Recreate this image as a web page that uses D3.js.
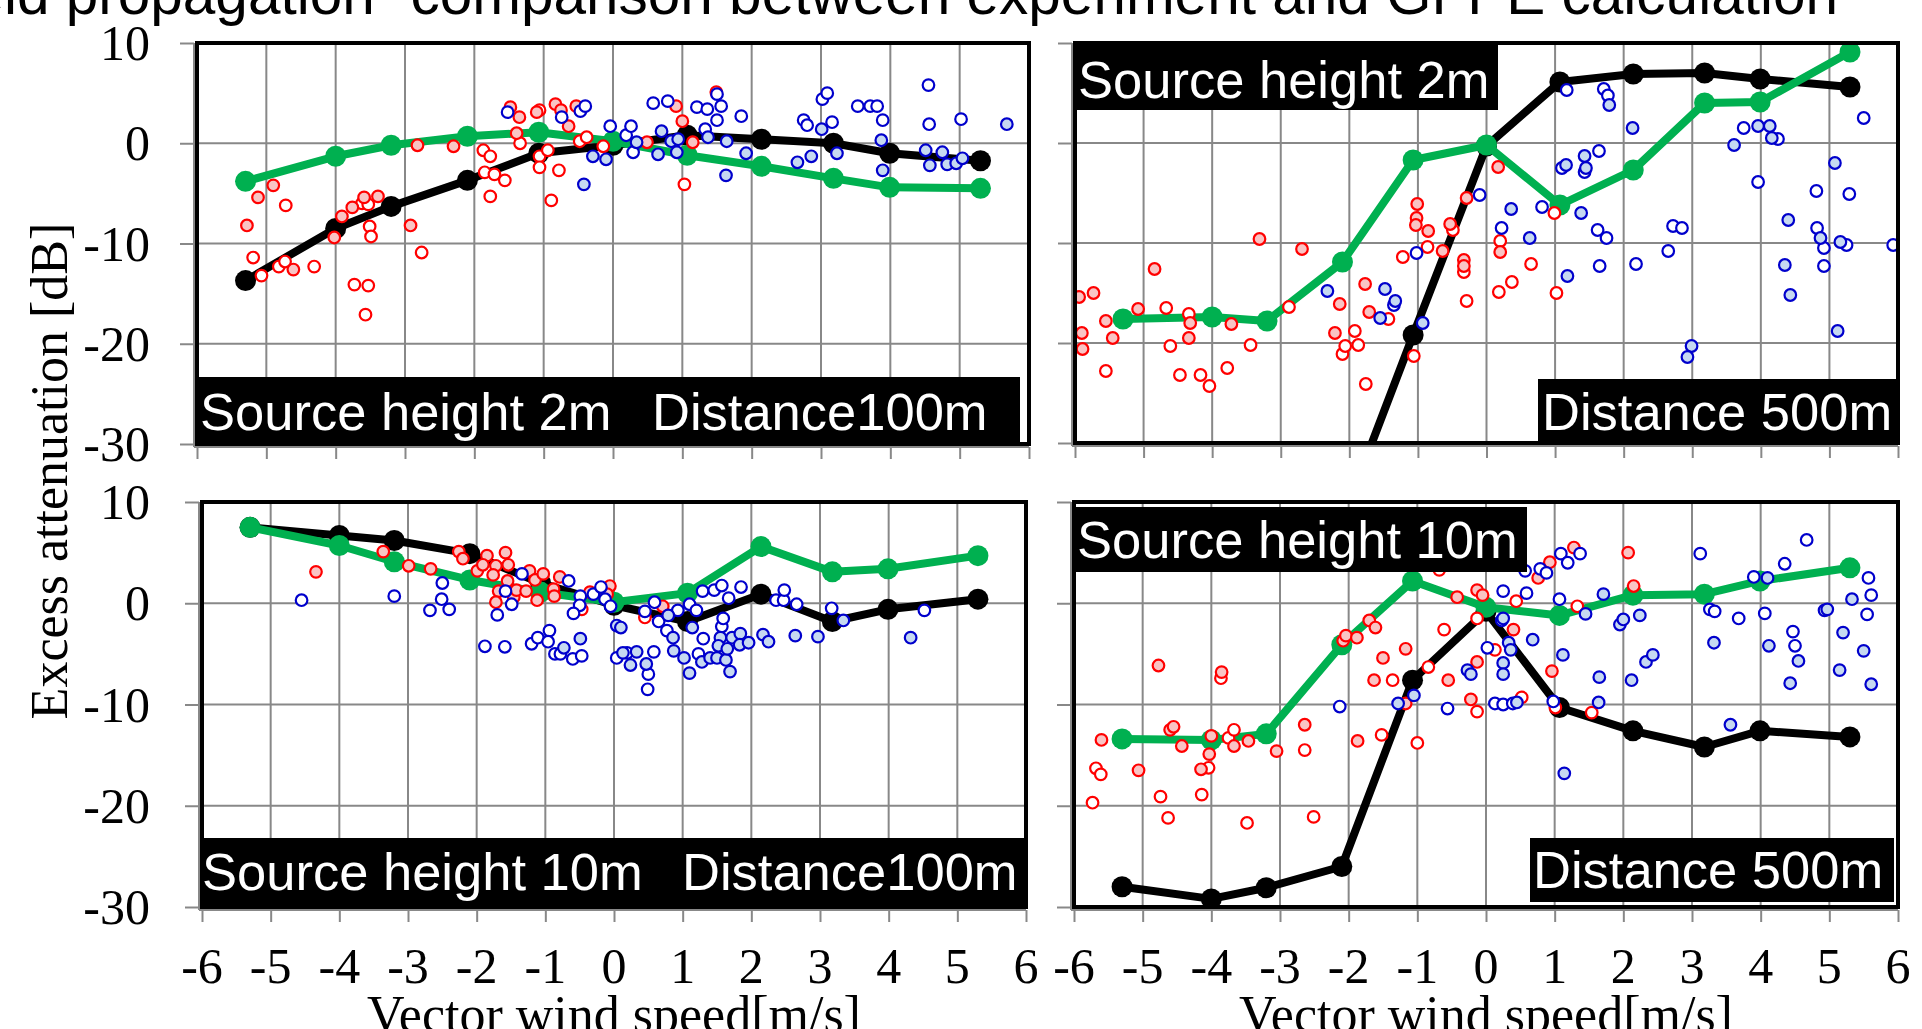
<!DOCTYPE html>
<html>
<head>
<meta charset="utf-8">
<title>Excess attenuation vs vector wind speed</title>
<script src="https://d3js.org/d3.v7.min.js"></script>
<style>
  body { margin: 0; background: #fff; }
  svg { display: block; }
  .serif { font-family: "Liberation Serif", "Times New Roman", serif; fill: #000; }
  .sans { font-family: "Liberation Sans", Arial, sans-serif; }
  .box-text { font-family: "Liberation Sans", Arial, sans-serif; font-size: 52.5px; fill: #fff; }
</style>
</head>
<body>
<script>
// ---- data ----
var calcWind = [-5.3, -4.0, -3.2, -2.1, -1.07, 0, 1.07, 2.14, 3.18, 3.99, 5.3];
var xTicks = [-6, -5, -4, -3, -2, -1, 0, 1, 2, 3, 4, 5, 6];
var yTicks = [10, 0, -10, -20, -30];

// source 2m, distance 100m
var tlBlack = [-13.7, -8.5, -6.3, -3.7, -1.0, -0.2, 0.8, 0.4, 0.0, -1.0, -1.75];
var tlGreen = [-3.8, -1.3, -0.2, 0.7, 1.1, 0.2, -1.2, -2.3, -3.5, -4.4, -4.5];
var tlRedOpen = [[-4.72,-6.2],[-5.19,-11.4],[-5.07,-13.2],[-4.82,-12.3],[-4.73,-11.8],[-4.31,-12.3],[-3.62,-6.0],[-3.53,-6.1],[-3.51,-8.3],[-3.49,-9.3],[-3.73,-14.1],[-3.53,-14.2],[-3.57,-17.1],[-2.76,-10.9],[-1.87,-0.7],[-1.77,-1.3],[-1.85,-2.9],[-1.71,-3.1],[-1.56,-3.7],[-1.77,-5.3],[-1.34,0.0],[-1.06,3.3],[-1.06,-1.3],[-1.06,-2.4],[-0.94,-0.7],[-0.78,-2.7],[-0.89,-5.7],[-0.48,0.2],[-0.38,0.6],[-0.14,-0.3],[1.03,-4.1],[1.49,5.1]];
var tlRedFill = [[-5.28,-8.2],[-5.12,-5.4],[-4.9,-4.2],[-4.61,-12.6],[-4.02,-9.4],[-3.91,-7.3],[-3.76,-6.4],[-3.59,-5.4],[-3.39,-5.3],[-2.92,-8.2],[-2.82,-0.2],[-2.3,-0.3],[-1.48,3.6],[-1.39,1.0],[-1.35,2.6],[-1.1,3.1],[-0.83,3.9],[-0.75,3.3],[-0.64,1.7],[-0.53,3.7],[0.49,0.1],[0.91,3.7],[1.0,2.2],[1.15,0.1]];
var tlBlueOpen = [[-1.52,3.1],[-0.74,2.6],[-0.47,3.2],[-0.4,3.7],[-0.04,1.7],[0.19,0.8],[0.26,1.7],[0.29,-0.9],[0.58,4.0],[0.79,4.2],[1.21,3.6],[1.36,3.4],[1.56,3.7],[1.5,4.9],[1.5,2.3],[1.33,1.4],[1.85,2.7],[2.75,2.3],[2.8,1.8],[3.02,4.4],[3.09,5.0],[3.16,2.1],[3.53,3.7],[3.71,3.7],[3.81,3.7],[3.89,2.3],[4.55,5.8],[4.56,1.9],[5.02,2.4]];
var tlBlueFill = [[-0.42,-4.1],[-0.29,-1.3],[-0.1,-1.6],[0.34,0.1],[0.65,-1.1],[0.7,1.2],[0.84,0.2],[0.92,-0.9],[0.94,0.4],[1.37,0.6],[1.64,0.2],[1.63,-3.2],[1.92,-1.0],[2.66,-1.9],[2.86,-1.3],[3.01,1.4],[3.23,-1.0],[3.87,0.3],[3.89,-2.7],[4.51,-0.7],[4.57,-2.2],[4.75,-0.9],[4.82,-2.1],[4.95,-2.0],[5.04,-1.5],[5.68,1.9]];

// source 2m, distance 500m
var trBlack = [-40, -40, -40, -37.7, -19.2, -0.3, 6.1, 6.9, 7.0, 6.4, 5.6];
var trGreen = [-17.6, -17.4, -17.8, -11.9, -1.7, -0.2, -6.2, -2.7, 4.0, 4.1, 9.1];
var trRedOpen = [[-5.55,-22.8],[-4.67,-16.5],[-4.61,-20.3],[-4.34,-17.1],[-4.47,-23.2],[-4.17,-23.2],[-4.04,-24.3],[-3.78,-22.5],[-3.44,-20.2],[-2.88,-16.4],[-2.1,-21.1],[-2.06,-20.3],[-1.92,-18.8],[-1.87,-20.2],[-1.43,-17.6],[-1.76,-24.1],[-1.22,-11.4],[-1.06,-21.3],[-0.86,-10.4],[-0.49,-8.7],[-0.33,-12.9],[-0.29,-15.8],[0.2,-9.8],[0.65,-12.1],[0.37,-13.9],[0.18,-14.9],[0.99,-7.0],[1.02,-15.0]];
var trRedFill = [[-5.94,-15.4],[-5.73,-15.0],[-5.9,-19.0],[-5.89,-20.6],[-5.55,-17.8],[-5.45,-19.5],[-5.08,-16.6],[-4.84,-12.6],[-4.32,-18.0],[-4.34,-19.5],[-3.72,-18.1],[-3.31,-9.6],[-2.69,-10.6],[-2.21,-19.0],[-2.14,-16.1],[-1.77,-14.1],[-1.71,-16.9],[-1.01,-6.1],[-1.02,-7.5],[-1.03,-8.2],[-0.85,-8.8],[-0.64,-10.8],[-0.53,-8.1],[-0.29,-5.5],[-0.33,-11.7],[-0.33,-12.3],[0.17,-2.4],[0.2,-10.9]];
var trBlueOpen = [[-1.02,-11.0],[-1.35,-16.2],[-0.1,-5.2],[0.22,-8.5],[0.81,-6.4],[1.17,5.3],[1.1,-2.5],[1.43,-2.9],[1.64,-0.8],[1.71,5.4],[1.77,4.75],[1.62,-8.7],[1.75,-9.5],[1.65,-12.3],[2.18,-12.1],[2.65,-10.8],[2.72,-8.3],[2.85,-8.5],[3.75,1.5],[4.25,0.4],[3.96,-3.9],[4.81,-4.8],[4.82,-8.5],[4.92,-10.5],[4.92,-12.3],[5.25,-10.2],[5.29,-5.1],[5.5,2.5],[5.93,-10.2]];
var trBlueFill = [[-2.32,-14.8],[-1.48,-14.6],[-1.33,-15.8],[-1.55,-17.5],[-0.93,-18.0],[0.36,-6.6],[0.63,-9.5],[1.16,-2.2],[1.18,-13.3],[1.38,-7.0],[1.43,-1.3],[1.45,-2.5],[1.79,3.8],[2.13,1.5],[2.99,-20.3],[2.93,-21.4],[3.61,-0.2],[3.96,1.7],[4.13,1.7],[4.16,0.5],[4.4,-7.7],[4.35,-12.2],[4.43,-15.2],[4.87,-9.5],[5.08,-2.0],[5.16,-9.9],[5.12,-18.8]];

// source 10m, distance 100m
var blBlack = [7.5, 6.7, 6.2, 4.9, 2.0, -0.2, -1.8, 0.9, -1.8, -0.6, 0.4];
var blGreen = [7.5, 5.7, 4.1, 2.3, 1.1, 0.1, 1.0, 5.6, 3.1, 3.4, 4.7];
var blRedOpen = [[-0.47,-0.6],[0.45,-1.4]];
var blRedFill = [[-4.34,3.1],[-3.36,5.1],[-2.99,3.7],[-2.67,3.4],[-2.26,5.1],[-2.2,4.4],[-1.99,3.2],[-1.85,4.7],[-1.91,3.8],[-1.72,3.7],[-1.58,5.0],[-1.54,3.8],[-1.76,2.8],[-1.68,1.2],[-1.72,0.1],[-1.55,2.2],[-1.46,0.6],[-1.42,1.3],[-1.28,1.2],[-1.23,3.2],[-1.15,2.3],[-1.03,2.9],[-1.12,0.3],[-0.88,1.4],[-0.87,0.7],[-0.79,2.6],[-0.35,1.1],[-0.06,1.7],[-0.1,0.9],[0.71,-0.3]];
var blBlueOpen = [[-4.55,0.3],[-3.2,0.7],[-2.5,2.0],[-2.51,0.4],[-2.68,-0.7],[-2.4,-0.6],[-1.88,-4.25],[-1.59,-4.3],[-1.7,-1.15],[-1.58,1.2],[-1.49,-0.1],[-1.34,2.9],[-1.2,-4.0],[-1.11,-3.4],[-0.94,-2.7],[-0.96,-3.8],[-0.86,-5.0],[-0.78,-5.0],[-0.6,-5.5],[-0.47,-5.2],[-0.66,2.2],[-0.49,0.7],[-0.5,-0.2],[-0.59,-1.0],[-0.3,0.9],[-0.19,1.6],[-0.13,0.4],[-0.05,-0.3],[0.04,-5.4],[0.19,-4.9],[0.5,-7.0],[0.49,-8.5],[0.58,-4.8],[0.59,0.1],[0.45,-0.8],[0.65,-1.8],[0.77,-2.7],[0.93,-0.7],[1.1,-0.1],[1.2,-0.7],[1.23,-5.0],[1.3,-3.5],[1.29,1.2],[1.46,1.3],[1.57,1.75],[1.67,0.5],[1.57,-2.3],[1.59,-1.5],[1.85,1.6],[2.36,0.3],[2.47,0.3],[2.48,1.3],[2.66,-0.1],[3.17,-0.5],[4.52,-0.7]];
var blBlueFill = [[-0.73,-4.4],[-0.49,-3.5],[0.04,-2.2],[0.1,-2.4],[0.13,-4.9],[0.24,-6.1],[0.33,-4.8],[0.47,-6.0],[0.79,-1.2],[0.86,-3.4],[0.87,-4.7],[1.02,-5.4],[1.1,-6.9],[1.14,-2.4],[1.28,-5.8],[1.4,-5.4],[1.5,-5.4],[1.55,-3.4],[1.63,-5.6],[1.69,-6.75],[1.72,-3.4],[1.52,-4.2],[1.65,-4.5],[1.84,-3.0],[1.83,-4.1],[1.96,-3.9],[2.17,-3.1],[2.25,-3.8],[2.64,-3.2],[2.97,-3.3],[3.34,-1.7],[4.32,-3.4]];

// source 10m, distance 500m
var brBlack = [-28.0, -29.2, -28.1, -26.0, -7.6, -0.8, -10.3, -12.6, -14.2, -12.6, -13.2];
var brGreen = [-13.4, -13.5, -12.9, -4.1, 2.2, -0.4, -1.2, 0.8, 0.9, 2.2, 3.5];
var brRedOpen = [[-5.68,-16.3],[-5.61,-16.9],[-5.73,-19.7],[-4.74,-19.1],[-4.63,-21.2],[-4.14,-18.9],[-4.04,-16.25],[-3.86,-7.4],[-3.75,-13.3],[-3.67,-12.5],[-3.48,-21.7],[-2.64,-14.5],[-2.51,-21.1],[-1.36,-7.6],[-1.52,-13.0],[-1.0,-13.8],[-0.84,-6.3],[-0.68,3.3],[-0.61,-2.6],[-0.13,-1.5],[-0.13,-10.7],[0.44,0.2],[0.13,-4.6],[0.52,-9.3],[1.01,-10.3],[1.33,-0.3],[1.54,-10.8]];
var brRedFill = [[-5.6,-13.5],[-5.06,-16.5],[-4.77,-6.15],[-4.6,-12.5],[-4.55,-12.2],[-4.43,-14.1],[-4.15,-16.4],[-4.03,-14.9],[-4.0,-13.1],[-3.85,-6.8],[-3.67,-14.1],[-3.46,-13.6],[-3.05,-14.6],[-2.64,-12.0],[-2.08,-3.7],[-2.04,-3.2],[-1.88,-3.4],[-1.87,-13.6],[-1.7,-1.7],[-1.61,-2.4],[-1.5,-5.4],[-1.63,-7.6],[-1.17,-4.5],[-1.17,-9.9],[-0.55,-7.6],[-0.42,0.6],[-0.13,1.3],[-0.13,-5.8],[-0.22,-9.5],[-0.05,0.8],[0.4,-2.6],[0.76,2.5],[0.93,4.05],[1.28,5.5],[0.96,-6.7],[2.07,5.0],[2.15,1.7]];
var brBlueOpen = [[-2.13,-10.2],[-0.56,-10.4],[0.25,1.2],[0.23,-1.7],[0.57,3.2],[0.59,1.0],[0.79,3.4],[0.88,3.0],[0.02,-4.4],[0.13,-9.9],[0.25,-10.0],[0.39,-9.9],[1.07,0.4],[1.09,4.9],[1.19,4.0],[1.37,4.9],[0.98,-9.7],[3.12,4.9],[3.26,-0.6],[3.33,-0.8],[3.68,-1.5],[3.9,2.6],[4.06,-1.0],[4.35,3.9],[4.47,-2.8],[4.5,-4.2],[4.67,6.25],[5.57,2.5],[5.61,0.8],[5.55,-1.1]];
var brBlueFill = [[-1.28,-9.9],[-1.05,-9.1],[-0.27,-6.6],[-0.22,-7.0],[0.25,-1.5],[0.68,-3.6],[0.33,-3.9],[0.36,-4.6],[0.25,-5.9],[0.25,-7.0],[0.45,-9.8],[1.12,-5.1],[1.14,-16.8],[1.45,-1.05],[1.71,0.9],[1.64,-9.8],[1.65,-7.3],[1.95,-2.1],[2.0,-1.6],[2.24,-1.2],[2.12,-7.6],[2.33,-5.8],[2.43,-5.1],[3.32,-3.9],[3.56,-12.0],[4.1,2.5],[4.12,-4.2],[4.55,-5.7],[4.43,-7.9],[4.93,-0.7],[4.97,-0.6],[5.2,-2.9],[5.15,-6.6],[5.33,0.4],[5.5,-4.7],[5.61,-8.0]];

// ---- layout ----
var W = 1922, H = 1029;
var panels = [
  {id: "tl", x0: 197, x1: 1029, y0: 43, y1: 444, yLabels: true, xLabels: false,
   black: tlBlack, green: tlGreen, redOpen: tlRedOpen, redFill: tlRedFill, blueOpen: tlBlueOpen, blueFill: tlBlueFill,
   boxes: [{x: 196, y: 377, w: 824, h: 66, texts: [["Source height 2m", 200, 430], ["Distance100m", 652, 430]]}]},
  {id: "tr", x0: 1075, x1: 1898, y0: 43, y1: 443, yLabels: false, xLabels: false,
   black: trBlack, green: trGreen, redOpen: trRedOpen, redFill: trRedFill, blueOpen: trBlueOpen, blueFill: trBlueFill,
   boxes: [{x: 1075, y: 43, w: 423, h: 67, texts: [["Source height 2m", 1078, 98]]},
           {x: 1538, y: 379, w: 360, h: 64, texts: [["Distance 500m", 1542, 430]]}]},
  {id: "bl", x0: 202, x1: 1026, y0: 502, y1: 907, yLabels: true, xLabels: true,
   black: blBlack, green: blGreen, redOpen: blRedOpen, redFill: blRedFill, blueOpen: blBlueOpen, blueFill: blBlueFill,
   boxes: [{x: 200, y: 838, w: 826, h: 69, texts: [["Source height 10m", 202, 890], ["Distance100m", 682, 890]]}]},
  {id: "br", x0: 1074, x1: 1898, y0: 502, y1: 907, yLabels: false, xLabels: true,
   black: brBlack, green: brGreen, redOpen: brRedOpen, redFill: brRedFill, blueOpen: brBlueOpen, blueFill: brBlueFill,
   boxes: [{x: 1074, y: 507, w: 453, h: 65, texts: [["Source height 10m", 1077, 558]]},
           {x: 1530, y: 838, w: 364, h: 64, texts: [["Distance 500m", 1533, 888]]}]}
];

var svg = d3.select("body").append("svg").attr("width", W).attr("height", H);

// title, cut off at the top like the original slide
svg.append("text").attr("class", "sans")
  .attr("x", 1838).attr("y", 14)
  .attr("text-anchor", "end")
  .style("font-size", "58.5px")
  .text("\u201CSound field propagation\u201D comparison between experiment and GFPE calculation");

var defs = svg.append("defs");

panels.forEach(function(p) {
  var x = d3.scaleLinear().domain([-6, 6]).range([p.x0, p.x1]);
  var y = d3.scaleLinear().domain([10, -30]).range([p.y0, p.y1]);
  var g = svg.append("g");

  defs.append("clipPath").attr("id", "clip-" + p.id)
    .append("rect").attr("x", p.x0).attr("y", p.y0).attr("width", p.x1 - p.x0).attr("height", p.y1 - p.y0);

  // grid
  g.append("g").selectAll("line").data(xTicks.slice(1, -1)).enter().append("line")
    .attr("x1", x).attr("x2", x).attr("y1", p.y0).attr("y2", p.y1)
    .attr("stroke", "#888").attr("stroke-width", 2);
  g.append("g").selectAll("line").data(yTicks.slice(1, -1)).enter().append("line")
    .attr("y1", y).attr("y2", y).attr("x1", p.x0).attr("x2", p.x1)
    .attr("stroke", "#888").attr("stroke-width", 2);

  // gray axis lines with outward ticks
  var yAxis = d3.axisLeft(y).tickValues(yTicks).tickSize(14).tickFormat("");
  var xAxis = d3.axisBottom(x).tickValues(xTicks).tickSize(12).tickFormat("");
  var ya = g.append("g").attr("transform", "translate(" + (p.x0 - 3) + ",0)").call(yAxis);
  var xa = g.append("g").attr("transform", "translate(0," + (p.y1 + 3) + ")").call(xAxis);
  [ya, xa].forEach(function(a) {
    a.selectAll("path,line").attr("stroke", "#888").attr("stroke-width", 2);
    a.select(".domain").attr("d", a === ya ? "M0," + p.y0 + "V" + (p.y1 + 3) : "M" + (p.x0 - 3) + ",0H" + p.x1);
  });

  var plot = g.append("g").attr("clip-path", "url(#clip-" + p.id + ")");

  // calculated curves
  var line = d3.line().x(function(d) { return x(d[0]); }).y(function(d) { return y(d[1]); });
  [[p.black, "#000"], [p.green, "#00b050"]].forEach(function(s) {
    var pts = calcWind.map(function(w, i) { return [w, s[0][i]]; });
    plot.append("path").datum(pts).attr("d", line)
      .attr("fill", "none").attr("stroke", s[1]).attr("stroke-width", 8).attr("stroke-linejoin", "round");
    plot.append("g").selectAll("circle").data(pts).enter().append("circle")
      .attr("cx", function(d) { return x(d[0]); }).attr("cy", function(d) { return y(d[1]); })
      .attr("r", 10.5).attr("fill", s[1]);
  });

  // measured points
  var series = [
    [p.redOpen, "#ff0000", "#ffffff"], [p.redFill, "#ff0000", "#f9c4c4"],
    [p.blueOpen, "#0000cc", "#ffffff"], [p.blueFill, "#0000cc", "#c6d9f1"]
  ];
  series.forEach(function(s) {
    plot.append("g").selectAll("circle").data(s[0]).enter().append("circle")
      .attr("cx", function(d) { return x(d[0]); }).attr("cy", function(d) { return y(d[1]); })
      .attr("r", 5.8).attr("fill", s[2]).attr("stroke", s[1]).attr("stroke-width", 2.2);
  });

  // black label boxes
  p.boxes.forEach(function(b) {
    g.append("rect").attr("x", b.x).attr("y", b.y).attr("width", b.w).attr("height", b.h).attr("fill", "#000");
    b.texts.forEach(function(t) {
      g.append("text").attr("class", "box-text").attr("x", t[1]).attr("y", t[2]).text(t[0]);
    });
  });

  // frame
  g.append("rect").attr("x", p.x0).attr("y", p.y0).attr("width", p.x1 - p.x0).attr("height", p.y1 - p.y0)
    .attr("fill", "none").attr("stroke", "#000").attr("stroke-width", 4);

  if (p.yLabels) {
    g.append("g").selectAll("text").data(yTicks).enter().append("text")
      .attr("class", "serif").style("font-size", "50px")
      .attr("x", 150).attr("y", function(d) { return y(d) + 17; })
      .attr("text-anchor", "end")
      .text(function(d) { return d; });
  }
  if (p.xLabels) {
    g.append("g").selectAll("text").data(xTicks).enter().append("text")
      .attr("class", "serif").style("font-size", "50px")
      .attr("x", x).attr("y", 983)
      .attr("text-anchor", "middle")
      .text(function(d) { return d; });
    g.append("text").attr("class", "serif").style("font-size", "52px")
      .attr("x", (p.x0 + p.x1) / 2).attr("y", 1032)
      .attr("text-anchor", "middle")
      .text("Vector wind speed[m/s]");
  }
});

svg.append("text").attr("class", "serif").style("font-size", "52px")
  .attr("transform", "translate(67,471) rotate(-90)")
  .attr("text-anchor", "middle")
  .text("Excess attenuation [dB]");
</script>
</body>
</html>
